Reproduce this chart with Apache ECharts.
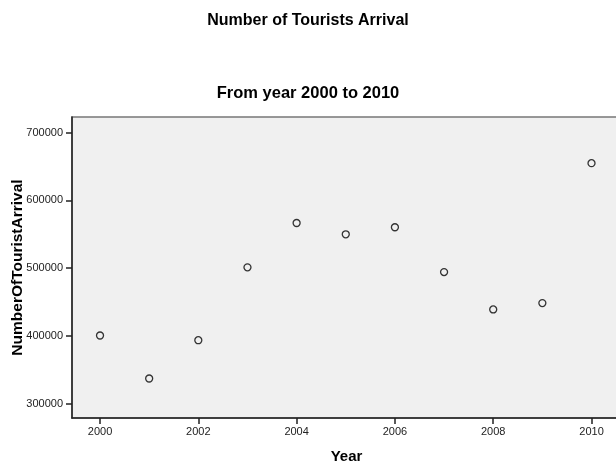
<!DOCTYPE html>
<html>
<head>
<meta charset="utf-8">
<script src="https://cdn.jsdelivr.net/npm/echarts@6/dist/echarts.min.js"></script>
<style>html,body{margin:0;padding:0;background:#fff}#c{width:616px;height:464px}</style>
</head>
<body>
<div id="c"></div>
<script>
var years = [2000, 2001, 2002, 2003, 2004, 2005, 2006, 2007, 2008, 2009, 2010];
var arrivals = [400500, 337000, 393600, 501200, 566700, 550000, 560400, 494200, 439000, 448400, 655000];
var xTicks = [2000, 2002, 2004, 2006, 2008, 2010];
var yTicks = [300000, 400000, 500000, 600000, 700000];

var points = years.map(function (y, i) { return [y, arrivals[i]]; });
var chart = echarts.init(document.getElementById('c'), null, {renderer: 'canvas'});
var font = 'Liberation Sans, Arial, sans-serif';
chart.setOption({
  animation: false,
  backgroundColor: '#ffffff',
  title: [
    {text: 'Number of Tourists Arrival', left: 'center', top: 8,
     textStyle: {fontFamily: font, fontSize: 16, fontWeight: 'bold', color: '#000'}},
    {text: 'From year 2000 to 2010', left: 'center', top: 80,
     textStyle: {fontFamily: font, fontSize: 16.5, fontWeight: 'bold', color: '#000'}}
  ],
  grid: {left: 72, right: -5, top: 117, bottom: 46, show: true, containLabel: false,
         outerBoundsMode: 'none',
         backgroundColor: '#f0f0f0', borderColor: '#777', borderWidth: 1.5},
  xAxis: {
    type: 'value', min: 1999.43, max: 2010.6,
    name: 'Year', nameLocation: 'middle', nameGap: 31, nameMoveOverlap: false,
    nameTextStyle: {fontFamily: font, fontSize: 15, fontWeight: 'bold', color: '#000'},
    axisLine: {show: true, onZero: false, lineStyle: {color: '#222', width: 1.5}},
    axisTick: {show: true, length: 6, customValues: xTicks, lineStyle: {color: '#222', width: 1.5}},
    axisLabel: {customValues: xTicks, margin: 8, fontFamily: font, fontSize: 11, color: '#222',
                formatter: function (v) { return String(v); }},
    splitLine: {show: false}
  },
  yAxis: {
    type: 'value', min: 278700, max: 723200,
    name: 'NumberOfTouristArrival', nameLocation: 'middle', nameGap: 46, nameMoveOverlap: false,
    nameTextStyle: {fontFamily: font, fontSize: 15.5, fontWeight: 'bold', color: '#000'},
    axisLine: {show: true, onZero: false, lineStyle: {color: '#222', width: 1.5}},
    axisTick: {show: true, length: 6, customValues: yTicks, lineStyle: {color: '#222', width: 1.5}},
    axisLabel: {customValues: yTicks, margin: 9, fontFamily: font, fontSize: 11, color: '#222',
                formatter: function (v) { return String(v); }},
    splitLine: {show: false}
  },
  series: [{
    type: 'scatter',
    data: points,
    symbol: 'circle',
    symbolSize: 7,
    itemStyle: {color: '#f0f0f0', borderColor: '#333', borderWidth: 1.3, opacity: 1}
  }]
});
</script>
</body>
</html>
